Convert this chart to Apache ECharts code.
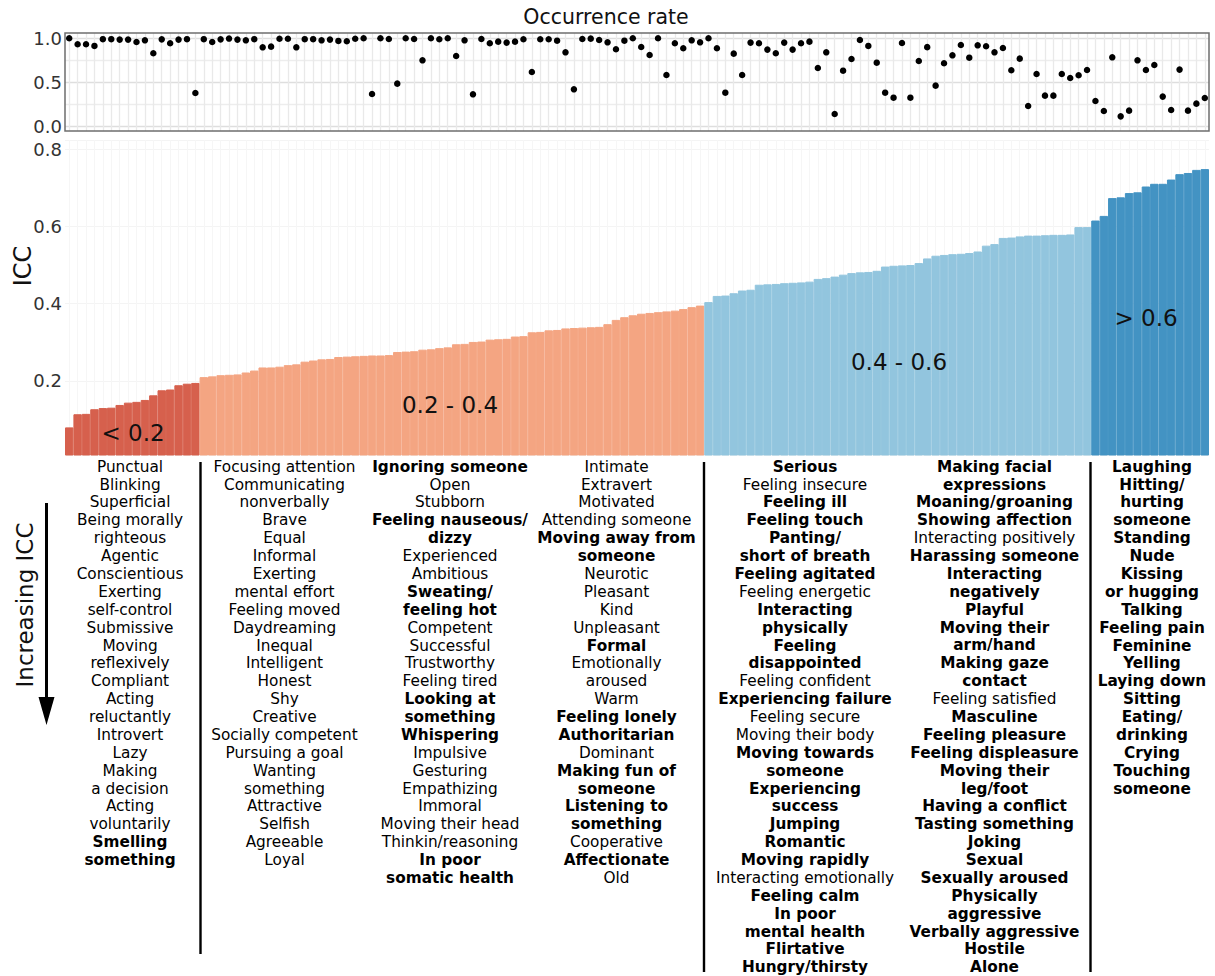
<!DOCTYPE html>
<html>
<head>
<meta charset="utf-8">
<script src="https://cdn.jsdelivr.net/npm/echarts@6/dist/echarts.min.js"></script>
<style>
  html, body { margin: 0; padding: 0; background: #ffffff; }
  #chart { width: 1215px; height: 976px; }
</style>
</head>
<body>
<div id="chart"></div>
<script>
// Rated characteristics, ordered by increasing ICC (line breaks as printed)
const traits = [
  // < 0.2
  "Punctual","Blinking","Superficial","Being morally\nrighteous","Agentic","Conscientious","Exerting\nself-control","Submissive","Moving\nreflexively","Compliant","Acting\nreluctantly","Introvert","Lazy","Making\na decision","Acting\nvoluntarily","Smelling\nsomething",
  // 0.2 - 0.4
  "Focusing attention","Communicating\nnonverbally","Brave","Equal","Informal","Exerting\nmental effort","Feeling moved","Daydreaming","Inequal","Intelligent","Honest","Shy","Creative","Socially competent","Pursuing a goal","Wanting\nsomething","Attractive","Selfish","Agreeable","Loyal",
  "Ignoring someone","Open","Stubborn","Feeling nauseous/\ndizzy","Experienced","Ambitious","Sweating/\nfeeling hot","Competent","Successful","Trustworthy","Feeling tired","Looking at\nsomething","Whispering","Impulsive","Gesturing","Empathizing","Immoral","Moving their head","Thinkin/reasoning","In poor\nsomatic health",
  "Intimate","Extravert","Motivated","Attending someone","Moving away from\nsomeone","Neurotic","Pleasant","Kind","Unpleasant","Formal","Emotionally\naroused","Warm","Feeling lonely","Authoritarian","Dominant","Making fun of\nsomeone","Listening to\nsomething","Cooperative","Affectionate","Old",
  // 0.4 - 0.6
  "Serious","Feeling insecure","Feeling ill","Feeling touch","Panting/\nshort of breath","Feeling agitated","Feeling energetic","Interacting\nphysically","Feeling\ndisappointed","Feeling confident","Experiencing failure","Feeling secure","Moving their body","Moving towards\nsomeone","Experiencing\nsuccess","Jumping","Romantic","Moving rapidly","Interacting emotionally","Feeling calm","In poor\nmental health","Flirtative","Hungry/thirsty",
  "Making facial\nexpressions","Moaning/groaning","Showing affection","Interacting positively","Harassing someone","Interacting\nnegatively","Playful","Moving their\narm/hand","Making gaze\ncontact","Feeling satisfied","Masculine","Feeling pleasure","Feeling displeasure","Moving their\nleg/foot","Having a conflict","Tasting something","Joking","Sexual","Sexually aroused","Physically\naggressive","Verbally aggressive","Hostile","Alone",
  // > 0.6
  "Laughing","Hitting/\nhurting\nsomeone","Standing","Nude","Kissing\nor hugging","Talking","Feeling pain","Feminine","Yelling","Laying down","Sitting","Eating/\ndrinking","Crying","Touching\nsomeone"
];

// Characteristics printed in bold
const boldTraits = [
  "Smelling\nsomething",
  "Ignoring someone","Feeling nauseous/\ndizzy","Sweating/\nfeeling hot","Looking at\nsomething","Whispering","In poor\nsomatic health",
  "Moving away from\nsomeone","Formal","Feeling lonely","Authoritarian","Making fun of\nsomeone","Listening to\nsomething","Affectionate",
  "Serious","Feeling ill","Feeling touch","Panting/\nshort of breath","Feeling agitated","Interacting\nphysically","Feeling\ndisappointed","Experiencing failure","Moving towards\nsomeone","Experiencing\nsuccess","Jumping","Romantic","Moving rapidly","Feeling calm","In poor\nmental health","Flirtative","Hungry/thirsty",
  "Making facial\nexpressions","Moaning/groaning","Showing affection","Harassing someone","Interacting\nnegatively","Playful","Moving their\narm/hand","Making gaze\ncontact","Masculine","Feeling pleasure","Feeling displeasure","Moving their\nleg/foot","Having a conflict","Tasting something","Joking","Sexual","Sexually aroused","Physically\naggressive","Verbally aggressive","Hostile","Alone",
  "Laughing","Hitting/\nhurting\nsomeone","Standing","Nude","Kissing\nor hugging","Talking","Feeling pain","Feminine","Yelling","Laying down","Sitting","Eating/\ndrinking","Crying","Touching\nsomeone"
];

// Intraclass correlation per characteristic
const icc = [
  0.080,0.114,0.115,0.127,0.130,0.131,0.138,0.144,0.146,0.151,0.163,0.176,0.178,0.189,0.193,0.195,
  0.210,0.212,0.215,0.216,0.217,0.222,0.227,0.235,0.235,0.237,0.241,0.243,0.250,0.253,0.256,0.257,0.262,0.263,0.264,0.265,0.266,0.266,0.267,
  0.275,0.276,0.277,0.281,0.282,0.285,0.287,0.295,0.296,0.301,0.302,0.307,0.308,0.309,0.315,0.316,0.326,0.327,0.331,0.332,0.336,0.337,0.338,0.339,0.340,0.347,0.358,0.365,0.370,0.374,0.376,0.378,0.380,0.382,0.386,0.391,0.395,
  0.404,0.420,0.421,0.427,0.434,0.436,0.449,0.450,0.451,0.453,0.454,0.455,0.457,0.464,0.466,0.470,0.475,0.479,0.481,0.482,0.485,0.496,0.498,0.499,0.500,0.505,0.517,0.524,0.526,0.528,0.529,0.531,0.535,0.550,0.554,0.570,0.571,0.574,0.576,0.576,0.577,0.578,0.578,0.579,0.598,0.598,
  0.615,0.627,0.673,0.675,0.686,0.688,0.703,0.710,0.710,0.721,0.735,0.738,0.746,0.748
];

// Share of ratings in which the characteristic occurred
const occurrence = [
  1.000,0.932,0.932,0.913,0.990,0.990,0.985,0.985,0.958,0.977,0.829,0.988,0.943,0.985,0.990,0.376,
  0.990,0.958,0.988,0.997,0.985,0.977,0.990,0.897,0.905,0.995,0.995,0.897,0.990,0.990,0.977,0.985,0.970,0.966,0.995,1.000,0.365,1.000,0.992,
  0.483,1.000,0.992,0.749,1.000,0.989,1.000,0.798,0.977,0.361,0.992,0.943,0.962,0.951,0.962,0.989,0.616,0.989,0.989,0.973,0.840,0.418,0.992,0.996,0.981,0.954,0.875,0.973,1.000,
  0.901,0.810,1.000,0.582,0.943,0.886,0.977,0.954,1.000,0.886,0.380,0.825,0.582,0.951,0.943,0.871,0.829,0.951,0.871,0.943,0.962,0.662,0.840,0.137,0.631,0.764,0.981,0.913,0.722,0.380,0.323,0.947,0.323,
  0.741,0.899,0.460,0.715,0.806,0.924,0.779,0.920,0.909,0.840,0.890,0.635,0.768,0.228,0.593,0.346,0.346,0.593,0.548,0.578,0.639,0.285,0.171,0.783,0.110,0.175,0.749,0.639,0.696,0.335,0.183,0.643,0.175,0.255,0.319
];

// ICC bands: label, upper bound, fill
const bandLabels = ["< 0.2", "0.2 - 0.4", "0.4 - 0.6", "> 0.6"];
const bandUpper = [0.2, 0.4, 0.6, Infinity];
const bandColors = ["#d6604d", "#f4a582", "#92c5de", "#4393c3"];

// How many names each printed column holds
const columnSizes = [16, 20, 20, 20, 23, 23, 14];

// Layout
const FONT = '"DejaVu Sans", Verdana, sans-serif';
const colX = [130, 284.5, 450, 616.5, 805, 994.5, 1152];
const LINE_H = 17.88;
const LIST_TOP = 466.7 - LINE_H / 2;
const bandLabelPos = [[133, 433], [450, 405], [899, 362], [1146, 318]];

function bandOf(v) {
  for (let b = 0; b < bandUpper.length; b++) if (v < bandUpper[b]) return b;
  return bandUpper.length - 1;
}

const boldSet = new Set(boldTraits);
const graphics = [];

// Names listed in columns beneath the bars
let idx = 0;
columnSizes.forEach((n, c) => {
  let line = 0;
  for (let k = 0; k < n; k++, idx++) {
    const name = traits[idx];
    graphics.push({
      type: 'text', x: colX[c], y: LIST_TOP + line * LINE_H, silent: true,
      style: {
        text: name, align: 'center', verticalAlign: 'top',
        fontFamily: FONT, fontSize: 15.3, lineHeight: LINE_H,
        fontWeight: boldSet.has(name) ? 'bold' : 'normal', fill: '#000000'
      }
    });
    line += name.split('\n').length;
  }
});

// Column separators
[[200.5, 462, 954], [704, 462, 972], [1090.5, 462, 972]].forEach(([x, y1, y2]) => {
  graphics.push({ type: 'line', shape: { x1: x, y1: y1, x2: x, y2: y2 }, style: { stroke: '#000', lineWidth: 2.4 }, silent: true });
});

// Band captions inside the bars
bandLabels.forEach((t, b) => {
  graphics.push({
    type: 'text', x: bandLabelPos[b][0], y: bandLabelPos[b][1], z: 10, silent: true,
    style: { text: t, align: 'center', verticalAlign: 'middle', fontFamily: FONT, fontSize: 23, fill: '#111111' }
  });
});

// Titles
graphics.push({
  type: 'text', x: 606, y: 17, silent: true,
  style: { text: 'Occurrence rate', align: 'center', verticalAlign: 'middle', fontFamily: FONT, fontSize: 20.5, fill: '#111111' }
});
graphics.push({
  type: 'text', x: 22.5, y: 266, rotation: Math.PI / 2, silent: true,
  style: { text: 'ICC', align: 'center', verticalAlign: 'middle', fontFamily: FONT, fontSize: 24, fill: '#111111' }
});
graphics.push({
  type: 'text', x: 25, y: 605, rotation: Math.PI / 2, silent: true,
  style: { text: 'Increasing ICC', align: 'center', verticalAlign: 'middle', fontFamily: FONT, fontSize: 23, fill: '#111111' }
});

// Downward arrow next to the names
graphics.push({ type: 'line', shape: { x1: 46.5, y1: 503, x2: 46.5, y2: 705 }, style: { stroke: '#000', lineWidth: 3 }, silent: true });
graphics.push({ type: 'polygon', shape: { points: [[38.5, 697], [54.5, 697], [46.5, 725]] }, style: { fill: '#000' }, silent: true });

// Frame around the occurrence panel
graphics.push({
  type: 'rect', z: 20, silent: true,
  shape: { x: 65, y: 33, width: 1144, height: 98 },
  style: { fill: 'none', stroke: '#6e6e6e', lineWidth: 1.5 }
});

const chart = echarts.init(document.getElementById('chart'), null, { renderer: 'svg' });

const hiddenAxisParts = { axisLine: { show: false }, axisTick: { show: false }, axisLabel: { show: false } };

// Each bar coloured by its ICC band; a matching outline closes hairline seams
const barData = icc.map(v => {
  const c = bandColors[bandOf(v)];
  return { value: v, itemStyle: { color: c, borderColor: c, borderWidth: 1 } };
});

chart.setOption({
  animation: false,
  textStyle: { fontFamily: FONT },
  grid: [
    { left: 69.2, right: 10.2, top: 33, height: 98 },    // vertical guides, occurrence panel
    { left: 65, right: 6, top: 38.3, height: 87.7 },      // occurrence dots
    { left: 69.2, right: 10.2, top: 140, height: 315 },   // vertical guides, ICC panel
    { left: 65, right: 6, top: 140, height: 315 }         // ICC bars
  ],
  xAxis: [
    Object.assign({ gridIndex: 0, type: 'value', min: 0, max: traits.length - 1, interval: 1,
      splitLine: { show: true, lineStyle: { color: '#e9e9e9', width: 1.3 } } }, hiddenAxisParts),
    { gridIndex: 1, type: 'value', min: -0.5, max: traits.length - 0.5, show: false },
    Object.assign({ gridIndex: 2, type: 'value', min: 0, max: traits.length - 1, interval: 1,
      splitLine: { show: true, lineStyle: { color: '#f6f6f6', width: 1 } } }, hiddenAxisParts),
    { gridIndex: 3, type: 'category', data: traits.map(t => t.replace(/\n/g, ' ')), show: false }
  ],
  yAxis: [
    { gridIndex: 0, type: 'value', min: 0, max: 1, show: false },
    {
      gridIndex: 1, type: 'value', min: 0, max: 1, interval: 0.25,
      axisLine: { show: false }, axisTick: { show: false },
      axisLabel: {
        fontFamily: FONT, fontSize: 18, color: '#333333', margin: 3,
        formatter: v => (Math.abs(v * 2 - Math.round(v * 2)) < 1e-6 ? v.toFixed(1) : '')
      },
      splitLine: { show: true, lineStyle: { color: ['#dedede', '#ededed'], width: 1.3 } }
    },
    { gridIndex: 2, type: 'value', min: 0, max: 1, show: false },
    {
      gridIndex: 3, type: 'value', min: 0.0086, max: 0.8233,
      axisLine: { show: false }, axisTick: { show: false },
      axisLabel: {
        fontFamily: FONT, fontSize: 18, color: '#333333', margin: 3,
        showMinLabel: false, showMaxLabel: false,
        formatter: v => (Math.abs(v * 5 - Math.round(v * 5)) < 1e-6 ? v.toFixed(1) : '')
      },
      splitLine: { show: true, lineStyle: { color: '#f4f4f4', width: 1 } }
    }
  ],
  series: [
    {
      type: 'scatter', xAxisIndex: 1, yAxisIndex: 1, clip: false, z: 5,
      symbol: 'circle', symbolSize: 6.5,
      itemStyle: { color: '#000000', opacity: 1 },
      data: occurrence.map((v, i) => [i, v])
    },
    {
      type: 'bar', xAxisIndex: 3, yAxisIndex: 3,
      barCategoryGap: '0%',
      data: barData
    }
  ],
  graphic: graphics
});
</script>
</body>
</html>
